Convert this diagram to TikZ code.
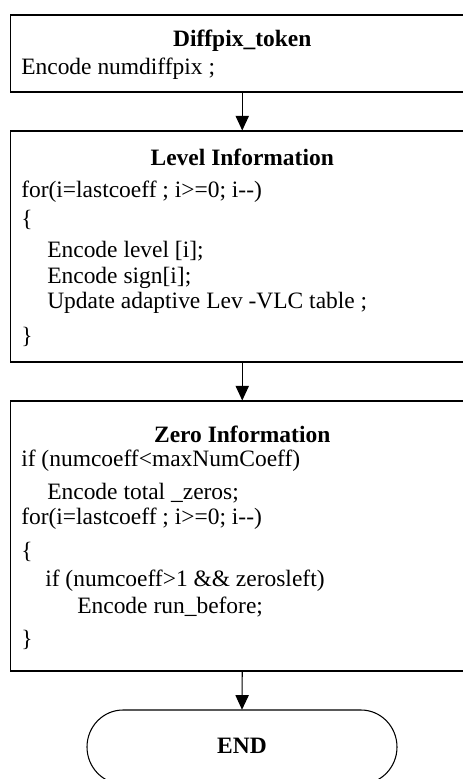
\documentclass[tikz,border=0pt]{standalone}
\usepackage{fontspec}
\setmainfont{Liberation Serif}
\usetikzlibrary{arrows.meta}

\tikzset{
  stepbox/.style={draw, line width=0.8pt, inner sep=0pt},
  codeline/.style={anchor=base west, inner sep=0pt},
  headline/.style={anchor=base, inner sep=0pt, font=\bfseries},
  flowarrow/.style={line width=0.8pt, -{Triangle[length=11pt,width=10pt]}}
}

\begin{document}
\begin{tikzpicture}[x=0.75pt,y=-0.75pt]
  \useasboundingbox (0,0) rectangle (463,779);
  \clip (0,0) rectangle (463,779);
  {\fontsize{17.6}{20}\selectfont

  % Drawing box diffpix
  \node (diffpix) [stepbox, minimum width=347.6pt, minimum height=57.75pt] at (242.25,53.5) {};
  \node (diffpixT) [headline] at (242.25,46) {Diffpix\_token};
  \node (diffpixA) [codeline] at (21,74) {Encode numdiffpix ;};

  % Drawing box level
  \node (level) [stepbox, minimum width=347.6pt, minimum height=173.25pt] at (242.25,246.5) {};
  \node (levelT) [headline] at (242.25,165) {Level Information};
  \node (levelA) [codeline] at (21,197) {for(i=lastcoeff ; i>=0; i-{}-)};
  \node (levelB) [codeline] at (21,226) {\{};
  \node (levelC) [codeline] at (47,257) {Encode level [i];};
  \node (levelD) [codeline] at (47,283) {Encode sign[i];};
  \node (levelE) [codeline] at (47,308) {Update adaptive Lev -VLC table ;};
  \node (levelF) [codeline] at (21,343) {\}};

  % Drawing box zero
  \node (zero) [stepbox, minimum width=347.6pt, minimum height=202.5pt] at (242.25,536) {};
  \node (zeroT) [headline] at (242.25,442) {Zero Information};
  \node (zeroA) [codeline] at (21,466) {if (numcoeff<maxNumCoeff)};
  \node (zeroB) [codeline] at (47,499) {Encode total \_zeros;};
  \node (zeroC) [codeline] at (21,524) {for(i=lastcoeff ; i>=0; i-{}-)};
  \node (zeroD) [codeline] at (21,558) {\{};
  \node (zeroE) [codeline] at (45,586) {if (numcoeff>1 \&\& zerosleft)};
  \node (zeroF) [codeline] at (77,613) {Encode run\_before;};
  \node (zeroG) [codeline] at (21,646) {\}};

  % Drawing terminal END
  \node (endnode) [minimum width=232.5pt, minimum height=55.5pt, inner sep=0pt] at (242,747) {};
  \draw [line width=0.8pt] (123,710) -- (361,710)
    arc [start angle=-90, end angle=90, x radius=36, y radius=37]
    -- (123,784)
    arc [start angle=90, end angle=270, x radius=36, y radius=37] -- cycle;
  \node (endlabel) [headline] at (242,753) {END};

  % Drawing arrows
  \draw [flowarrow] (diffpix.south) -- (level.north);
  \draw [flowarrow] (level.south) -- (zero.north);
  \draw [flowarrow] (zero.south) -- (endnode.north);
  }
\end{tikzpicture}
\end{document}
